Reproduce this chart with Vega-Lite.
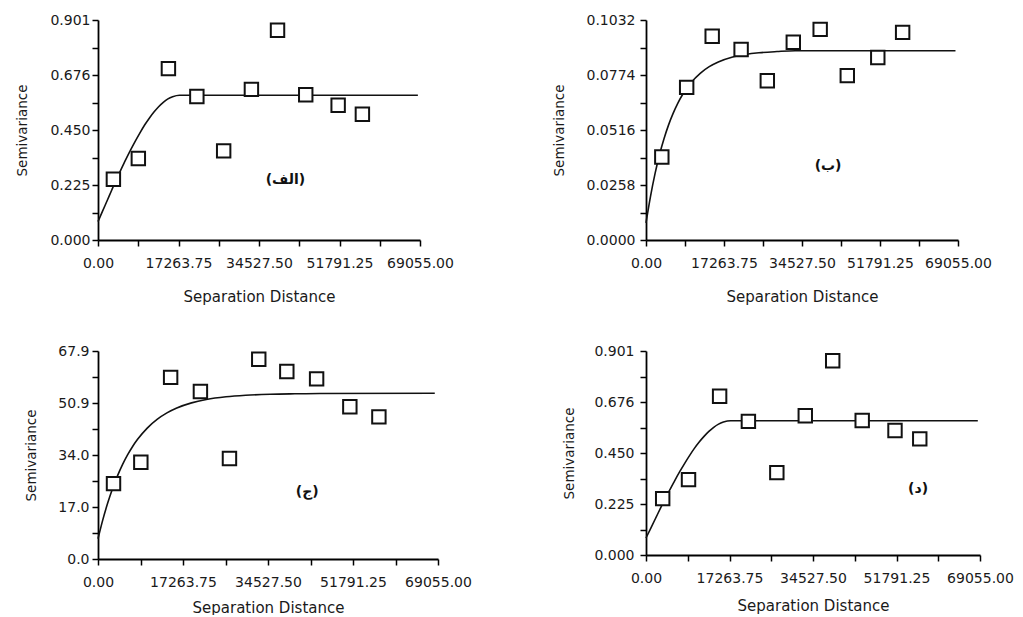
{
  "$schema": "https://vega.github.io/schema/vega-lite/v6.json",
  "background": "white",
  "padding": {"left": 15, "top": 13, "right": 5, "bottom": 0},
  "bounds": "flush",
  "align": "each",
  "columns": 2,
  "spacing": {"row": 111, "column": 208},
  "config": {
    "view": {"stroke": null},
    "font": "DejaVu Sans",
    "axis": {
      "domainColor": "#000", "domainWidth": 1.8,
      "tickColor": "#000", "tickWidth": 1.5, "tickSize": 6,
      "grid": false,
      "labelFont": "DejaVu Sans", "labelFontSize": 14, "labelColor": "#1a1a1a",
      "titleFont": "DejaVu Sans", "titleFontWeight": "normal", "titleColor": "#1a1a1a",
      "labelOverlap": false, "labelFlush": false, "labelBound": false
    },
    "axisX": {"labelPadding": 10, "titleFontSize": 15},
    "axisY": {"titleFontSize": 13.5}
  },
  "datasets": {
    "points1": [
      {"h": 3300, "g": 0.249}, {"h": 8650, "g": 0.334}, {"h": 15100, "g": 0.702},
      {"h": 21200, "g": 0.588}, {"h": 26950, "g": 0.365}, {"h": 32900, "g": 0.617},
      {"h": 38500, "g": 0.859}, {"h": 44550, "g": 0.595}, {"h": 51500, "g": 0.552},
      {"h": 56700, "g": 0.515}
    ],
    "curve1": [
      {"h": 0, "g": 0.075}, {"h": 1000, "g": 0.119}, {"h": 2000, "g": 0.163},
      {"h": 3000, "g": 0.207}, {"h": 4000, "g": 0.25}, {"h": 5000, "g": 0.291},
      {"h": 6000, "g": 0.331}, {"h": 7000, "g": 0.369}, {"h": 8000, "g": 0.405},
      {"h": 9000, "g": 0.439}, {"h": 10000, "g": 0.471}, {"h": 11000, "g": 0.499},
      {"h": 12000, "g": 0.524}, {"h": 13000, "g": 0.546}, {"h": 14000, "g": 0.564},
      {"h": 15000, "g": 0.578}, {"h": 16000, "g": 0.587}, {"h": 17500, "g": 0.593},
      {"h": 68600, "g": 0.593}
    ],
    "labels1": [{"h": 40200, "g": 0.245, "t": "(الف)"}],
    "points2": [
      {"h": 3500, "g": 0.0389}, {"h": 9000, "g": 0.0716}, {"h": 14650, "g": 0.0956},
      {"h": 21050, "g": 0.0894}, {"h": 26850, "g": 0.0747}, {"h": 32600, "g": 0.0928},
      {"h": 38550, "g": 0.0988}, {"h": 44550, "g": 0.0771}, {"h": 51300, "g": 0.0856},
      {"h": 56800, "g": 0.0974}
    ],
    "curve2": [
      {"h": 0, "g": 0.008}, {"h": 1000, "g": 0.0205}, {"h": 2000, "g": 0.0311},
      {"h": 3000, "g": 0.0401}, {"h": 4000, "g": 0.0476}, {"h": 5000, "g": 0.054},
      {"h": 6000, "g": 0.0594}, {"h": 7000, "g": 0.064}, {"h": 8000, "g": 0.0679},
      {"h": 10000, "g": 0.0739}, {"h": 12000, "g": 0.0782}, {"h": 14000, "g": 0.0813},
      {"h": 16000, "g": 0.0835}, {"h": 19000, "g": 0.0857}, {"h": 22000, "g": 0.087},
      {"h": 25000, "g": 0.0878}, {"h": 29000, "g": 0.0884}, {"h": 33000, "g": 0.0888},
      {"h": 68500, "g": 0.0888}
    ],
    "labels2": [{"h": 40300, "g": 0.0348, "t": "(ب)"}],
    "points3": [
      {"h": 3150, "g": 24.6}, {"h": 8700, "g": 31.6}, {"h": 14750, "g": 59.3},
      {"h": 20800, "g": 54.7}, {"h": 26700, "g": 32.8}, {"h": 32650, "g": 65.2},
      {"h": 38350, "g": 61.2}, {"h": 44400, "g": 58.8}, {"h": 51150, "g": 49.7},
      {"h": 57050, "g": 46.4}
    ],
    "curve3": [
      {"h": 0, "g": 6.6}, {"h": 1000, "g": 12.93}, {"h": 2000, "g": 18.42},
      {"h": 3000, "g": 23.18}, {"h": 4000, "g": 27.3}, {"h": 5000, "g": 30.87},
      {"h": 6000, "g": 33.97}, {"h": 7000, "g": 36.65}, {"h": 8000, "g": 38.98},
      {"h": 10000, "g": 42.74}, {"h": 12000, "g": 45.57}, {"h": 14000, "g": 47.69},
      {"h": 16000, "g": 49.29}, {"h": 19000, "g": 50.97}, {"h": 22000, "g": 52.06},
      {"h": 26000, "g": 52.95}, {"h": 30000, "g": 53.45}, {"h": 35000, "g": 53.78},
      {"h": 40000, "g": 53.94}, {"h": 45000, "g": 54.05}, {"h": 68400, "g": 54.1}
    ],
    "labels3": [{"h": 42500, "g": 21.9, "t": "(ج)"}],
    "points4": [
      {"h": 3450, "g": 0.249}, {"h": 8790, "g": 0.333}, {"h": 15220, "g": 0.701},
      {"h": 21170, "g": 0.59}, {"h": 27050, "g": 0.364}, {"h": 32930, "g": 0.615},
      {"h": 38600, "g": 0.858}, {"h": 44700, "g": 0.594}, {"h": 51480, "g": 0.55},
      {"h": 56600, "g": 0.513}
    ],
    "curve4": [
      {"h": 0, "g": 0.075}, {"h": 1000, "g": 0.119}, {"h": 2000, "g": 0.163},
      {"h": 3000, "g": 0.207}, {"h": 4000, "g": 0.25}, {"h": 5000, "g": 0.291},
      {"h": 6000, "g": 0.331}, {"h": 7000, "g": 0.369}, {"h": 8000, "g": 0.405},
      {"h": 9000, "g": 0.439}, {"h": 10000, "g": 0.471}, {"h": 11000, "g": 0.499},
      {"h": 12000, "g": 0.524}, {"h": 13000, "g": 0.546}, {"h": 14000, "g": 0.564},
      {"h": 15000, "g": 0.578}, {"h": 16000, "g": 0.587}, {"h": 17500, "g": 0.593},
      {"h": 68600, "g": 0.593}
    ],
    "labels4": [{"h": 56250, "g": 0.293, "t": "(د)"}]
  },
  "concat": [
    {
      "width": 322, "height": 220,
      "encoding": {
        "x": {"field": "h", "type": "quantitative", "scale": {"domain": [0, 69055], "nice": false},
          "axis": {"title": "Separation Distance", "titlePadding": 19,
            "values": [0, 8631.875, 17263.75, 25895.625, 34527.5, 43159.375, 51791.25, 60423.125, 69055],
            "labelExpr": "['0.00','','17263.75','','34527.50','','51791.25','','69055.00'][round(datum.value/8631.875)]"}},
        "y": {"field": "g", "type": "quantitative", "scale": {"domain": [0, 0.901], "nice": false},
          "axis": {"title": "Semivariance", "titlePadding": 20, "labelPadding": 2,
            "values": [0, 0.112625, 0.22525, 0.337875, 0.4505, 0.563125, 0.67575, 0.788375, 0.901],
            "labelExpr": "['0.000','','0.225','','0.450','','0.676','','0.901'][round(datum.value/0.112625)]"}}
      },
      "layer": [
        {"data": {"name": "curve1"}, "mark": {"type": "line", "color": "#111", "strokeWidth": 1.6, "interpolate": "monotone"}},
        {"data": {"name": "points1"}, "mark": {"type": "point", "shape": "square", "size": 180, "filled": true, "fill": "white", "stroke": "#111", "strokeWidth": 2, "opacity": 1}},
        {"data": {"name": "labels1"}, "mark": {"type": "text", "font": "DejaVu Sans", "fontWeight": "bold", "fontSize": 14, "color": "#111"}, "encoding": {"text": {"field": "t"}}}
      ]
    },
    {
      "width": 312, "height": 220,
      "encoding": {
        "x": {"field": "h", "type": "quantitative", "scale": {"domain": [0, 69055], "nice": false},
          "axis": {"title": "Separation Distance", "titlePadding": 19,
            "values": [0, 8631.875, 17263.75, 25895.625, 34527.5, 43159.375, 51791.25, 60423.125, 69055],
            "labelExpr": "['0.00','','17263.75','','34527.50','','51791.25','','69055.00'][round(datum.value/8631.875)]"}},
        "y": {"field": "g", "type": "quantitative", "scale": {"domain": [0, 0.1032], "nice": false},
          "axis": {"title": "Semivariance", "titlePadding": 20, "labelPadding": 5,
            "values": [0, 0.0129, 0.0258, 0.0387, 0.0516, 0.0645, 0.0774, 0.0903, 0.1032],
            "labelExpr": "['0.0000','','0.0258','','0.0516','','0.0774','','0.1032'][round(datum.value/0.0129)]"}}
      },
      "layer": [
        {"data": {"name": "curve2"}, "mark": {"type": "line", "color": "#111", "strokeWidth": 1.6, "interpolate": "monotone"}},
        {"data": {"name": "points2"}, "mark": {"type": "point", "shape": "square", "size": 180, "filled": true, "fill": "white", "stroke": "#111", "strokeWidth": 2, "opacity": 1}},
        {"data": {"name": "labels2"}, "mark": {"type": "text", "font": "DejaVu Sans", "fontWeight": "bold", "fontSize": 14, "color": "#111"}, "encoding": {"text": {"field": "t"}}}
      ]
    },
    {
      "width": 340, "height": 208,
      "encoding": {
        "x": {"field": "h", "type": "quantitative", "scale": {"domain": [0, 69055], "nice": false},
          "axis": {"title": "Separation Distance", "titlePadding": 11,
            "values": [0, 8631.875, 17263.75, 25895.625, 34527.5, 43159.375, 51791.25, 60423.125, 69055],
            "labelExpr": "['0.00','','17263.75','','34527.50','','51791.25','','69055.00'][round(datum.value/8631.875)]"}},
        "y": {"field": "g", "type": "quantitative", "scale": {"domain": [0, 67.9], "nice": false},
          "axis": {"title": "Semivariance", "titlePadding": 19, "labelPadding": 3,
            "values": [0, 8.4875, 16.975, 25.4625, 33.95, 42.4375, 50.925, 59.4125, 67.9],
            "labelExpr": "['0.0','','17.0','','34.0','','50.9','','67.9'][round(datum.value/8.4875)]"}}
      },
      "layer": [
        {"data": {"name": "curve3"}, "mark": {"type": "line", "color": "#111", "strokeWidth": 1.6, "interpolate": "monotone"}},
        {"data": {"name": "points3"}, "mark": {"type": "point", "shape": "square", "size": 180, "filled": true, "fill": "white", "stroke": "#111", "strokeWidth": 2, "opacity": 1}},
        {"data": {"name": "labels3"}, "mark": {"type": "text", "font": "DejaVu Sans", "fontWeight": "bold", "fontSize": 14, "color": "#111"}, "encoding": {"text": {"field": "t"}}}
      ]
    },
    {
      "width": 334, "height": 204,
      "encoding": {
        "x": {"field": "h", "type": "quantitative", "scale": {"domain": [0, 69055], "nice": false},
          "axis": {"title": "Separation Distance", "titlePadding": 13,
            "values": [0, 8631.875, 17263.75, 25895.625, 34527.5, 43159.375, 51791.25, 60423.125, 69055],
            "labelExpr": "['0.00','','17263.75','','34527.50','','51791.25','','69055.00'][round(datum.value/8631.875)]"}},
        "y": {"field": "g", "type": "quantitative", "scale": {"domain": [0, 0.901], "nice": false},
          "axis": {"title": "Semivariance", "titlePadding": 17, "labelPadding": 6,
            "values": [0, 0.112625, 0.22525, 0.337875, 0.4505, 0.563125, 0.67575, 0.788375, 0.901],
            "labelExpr": "['0.000','','0.225','','0.450','','0.676','','0.901'][round(datum.value/0.112625)]"}}
      },
      "layer": [
        {"data": {"name": "curve4"}, "mark": {"type": "line", "color": "#111", "strokeWidth": 1.6, "interpolate": "monotone"}},
        {"data": {"name": "points4"}, "mark": {"type": "point", "shape": "square", "size": 180, "filled": true, "fill": "white", "stroke": "#111", "strokeWidth": 2, "opacity": 1}},
        {"data": {"name": "labels4"}, "mark": {"type": "text", "font": "DejaVu Sans", "fontWeight": "bold", "fontSize": 14, "color": "#111"}, "encoding": {"text": {"field": "t"}}}
      ]
    }
  ]
}
